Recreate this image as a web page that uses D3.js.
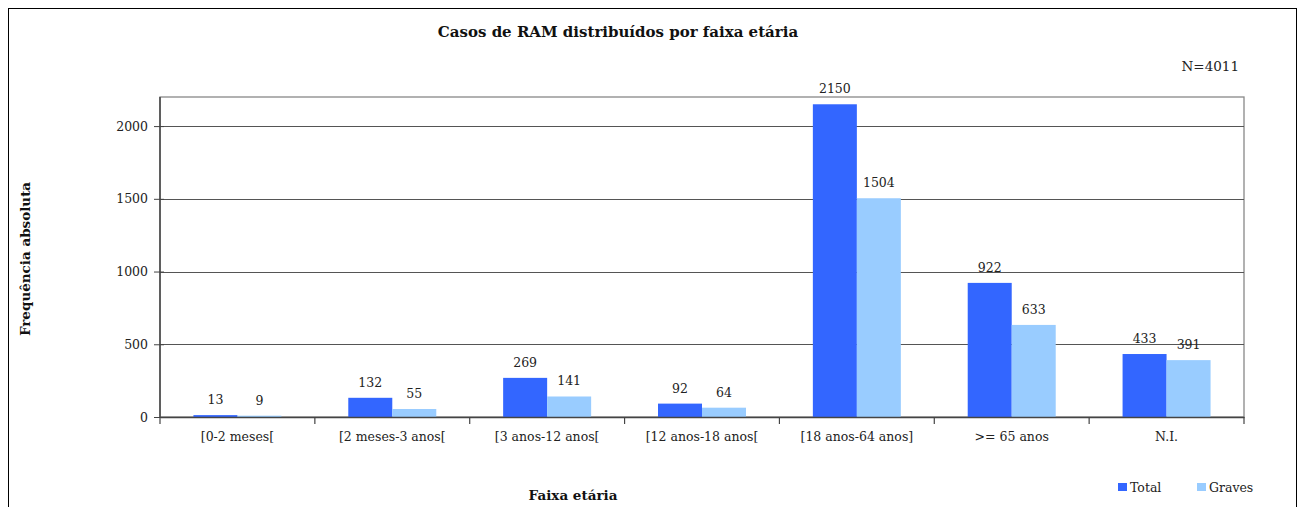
<!DOCTYPE html>
<html><head><meta charset="utf-8">
<script src="https://cdn.jsdelivr.net/npm/d3@7"></script>
<style>body{margin:0;background:#fff}svg{display:block}</style>
</head><body>
<script>
const categories = ["[0-2 meses[", "[2 meses-3 anos[", "[3 anos-12 anos[", "[12 anos-18 anos[", "[18 anos-64 anos]", ">= 65 anos", "N.I."];
const totalValues = [13, 132, 269, 92, 2150, 922, 433];
const gravesValues = [9, 55, 141, 64, 1504, 633, 391];
const seriesNames = ["Total", "Graves"];
const yTicks = [0, 500, 1000, 1500, 2000];
const yMax = 2200;

const W = 1305, H = 507;
const font = "DejaVu Serif, serif";
const colors = ["#3366FF", "#99CCFF"];
const svg = d3.select("body").append("svg").attr("width", W).attr("height", H);

svg.append("rect").attr("x", 8.5).attr("y", 8.5).attr("width", 1288).attr("height", 520)
  .attr("fill", "#fff").attr("stroke", "#000").attr("stroke-width", 1);

const L = 160, R = 1244, T = 97, B = 417;
const x = d3.scaleBand().domain(categories).range([L, R]).paddingInner(0).paddingOuter(0);
const y = d3.scaleLinear().domain([0, yMax]).range([B, T]);
const bw = 44;

// plot area border
svg.append("rect").attr("x", L).attr("y", T).attr("width", R - L).attr("height", B - T)
  .attr("fill", "none").attr("stroke", "#888").attr("stroke-width", 1.3);

// gridlines
svg.append("g").selectAll("line").data(yTicks.filter(d => d > 0)).join("line")
  .attr("x1", L).attr("x2", R).attr("y1", d => Math.round(y(d)) + 0.5).attr("y2", d => Math.round(y(d)) + 0.5)
  .attr("stroke", "#555").attr("stroke-width", 1);

const series = [totalValues, gravesValues];
series.forEach((vals, si) => {
  svg.append("g").selectAll("rect").data(vals).join("rect")
    .attr("x", (d, i) => x(categories[i]) + x.bandwidth() / 2 - bw + si * bw)
    .attr("y", d => y(d)).attr("width", bw).attr("height", d => B - y(d))
    .attr("fill", colors[si]);
  svg.append("g").selectAll("text").data(vals).join("text")
    .attr("x", (d, i) => x(categories[i]) + x.bandwidth() / 2 - bw / 2 + si * bw)
    .attr("y", d => y(d) - 11)
    .attr("text-anchor", "middle").attr("font-family", font).attr("font-size", 12.5)
    .attr("fill", "#222").text(d => d);
});

// y axis
const yAxis = svg.append("g").attr("transform", `translate(${L},0)`)
  .call(d3.axisLeft(y).tickValues(yTicks).tickSize(6).tickPadding(6).tickFormat(d3.format("d")));
yAxis.select(".domain").attr("stroke", "#444").attr("stroke-width", 1.5).attr("d", `M0,${T}V${B}`);
yAxis.selectAll(".tick line").attr("stroke", "#444").attr("x2", 4).attr("x1", -6);
yAxis.selectAll("text").attr("font-family", font).attr("font-size", 12.5).attr("fill", "#222");

// x axis
const xAxis = svg.append("g").attr("transform", `translate(0,${B})`)
  .call(d3.axisBottom(x).tickSize(0).tickPadding(15));
xAxis.select(".domain").attr("stroke", "#444").attr("stroke-width", 1.5);
xAxis.selectAll("text").attr("font-family", font).attr("font-size", 12.5).attr("fill", "#222");
svg.append("g").selectAll("line").data(d3.range(categories.length + 1)).join("line")
  .attr("x1", i => L + i * x.step()).attr("x2", i => L + i * x.step())
  .attr("y1", B).attr("y2", B + 7).attr("stroke", "#444").attr("stroke-width", 1.2);

// titles
svg.append("text").attr("x", 618).attr("y", 37).attr("text-anchor", "middle")
  .attr("font-family", font).attr("font-weight", "bold").attr("font-size", 15).attr("fill", "#111")
  .text("Casos de RAM distribuídos por faixa etária");
svg.append("text").attr("x", 1239).attr("y", 71).attr("text-anchor", "end")
  .attr("font-family", font).attr("font-size", 13.5).attr("fill", "#222").text("N=4011");
svg.append("text").attr("transform", "translate(30,259) rotate(-90)").attr("text-anchor", "middle")
  .attr("font-family", font).attr("font-weight", "bold").attr("font-size", 13.5).attr("fill", "#111")
  .text("Frequência absoluta");
svg.append("text").attr("x", 573).attr("y", 500).attr("text-anchor", "middle")
  .attr("font-family", font).attr("font-weight", "bold").attr("font-size", 13.5).attr("fill", "#111")
  .text("Faixa etária");

// legend
const legX = [1118, 1197];
seriesNames.forEach((n, i) => {
  svg.append("rect").attr("x", legX[i]).attr("y", 483).attr("width", 9).attr("height", 8).attr("fill", colors[i]);
  svg.append("text").attr("x", legX[i] + 12).attr("y", 492).attr("font-family", font).attr("font-size", 12.5)
    .attr("fill", "#222").text(n);
});
</script>
</body></html>
